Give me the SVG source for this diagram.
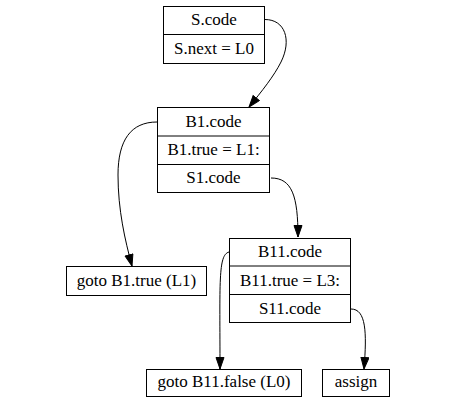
<svg xmlns="http://www.w3.org/2000/svg" width="456" height="403" viewBox="0 0 456 403">
<defs>
<marker id="arr" markerUnits="userSpaceOnUse" markerWidth="13" markerHeight="10" refX="12" refY="4.5" orient="auto">
<path d="M0.5,0.5 L12,4.5 L0.5,8.5 z" fill="#000" stroke="#000" stroke-width="1"/>
</marker>
</defs>
<rect width="456" height="403" fill="#fff"/>
<g id="connectors" fill="none" stroke="#000" stroke-width="1" marker-end="url(#arr)">
<path d="M265,19.5 C285,19.5 292,40 281,62 C274,76 262,91 249,107"/>
<path d="M157,122 C131,122 118,140 118,175 C118,210 125,240 132,266"/>
<path d="M271,178 C292,178 298,196 298,237"/>
<path d="M229,252 C218,255 220,282 220,369"/>
<path d="M351,309 C366,309 367,332 364,369"/>
</g>
<g font-family="Liberation Serif, Times New Roman, serif" font-size="17" text-anchor="middle" fill="#000">
<g id="node-S">
<rect x="163.5" y="6.5" width="101" height="57" fill="#fff" stroke="#000"/>
<line x1="163.5" y1="34.5" x2="264.5" y2="34.5" stroke="#000"/>
<text x="214" y="25">S.code</text>
<text x="214" y="54">S.next = L0</text>
</g>
<g id="node-B1">
<rect x="157.5" y="107.5" width="112" height="85" fill="#fff" stroke="#000"/>
<line x1="157.5" y1="136" x2="269.5" y2="136" stroke="#000"/>
<line x1="157.5" y1="164.5" x2="269.5" y2="164.5" stroke="#000"/>
<text x="213.5" y="126.5">B1.code</text>
<text x="213.5" y="155">B1.true = L1:</text>
<text x="213.5" y="183">S1.code</text>
</g>
<g id="node-gotoB1">
<rect x="66.5" y="266.5" width="140" height="29" fill="#fff" stroke="#000"/>
<text x="136.5" y="286">goto B1.true (L1)</text>
</g>
<g id="node-B11">
<rect x="229.5" y="238.5" width="121" height="84" fill="#fff" stroke="#000"/>
<line x1="229.5" y1="266" x2="350.5" y2="266" stroke="#000"/>
<line x1="229.5" y1="294.5" x2="350.5" y2="294.5" stroke="#000"/>
<text x="290" y="257">B11.code</text>
<text x="290" y="285.5">B11.true = L3:</text>
<text x="290" y="313.5">S11.code</text>
</g>
<g id="node-gotoB11">
<rect x="146.5" y="369.5" width="155" height="27" fill="#fff" stroke="#000"/>
<text x="224" y="387">goto B11.false (L0)</text>
</g>
<g id="node-assign">
<rect x="322.5" y="369.5" width="67" height="27" fill="#fff" stroke="#000"/>
<text x="356" y="387">assign</text>
</g>
</g>
</svg>
